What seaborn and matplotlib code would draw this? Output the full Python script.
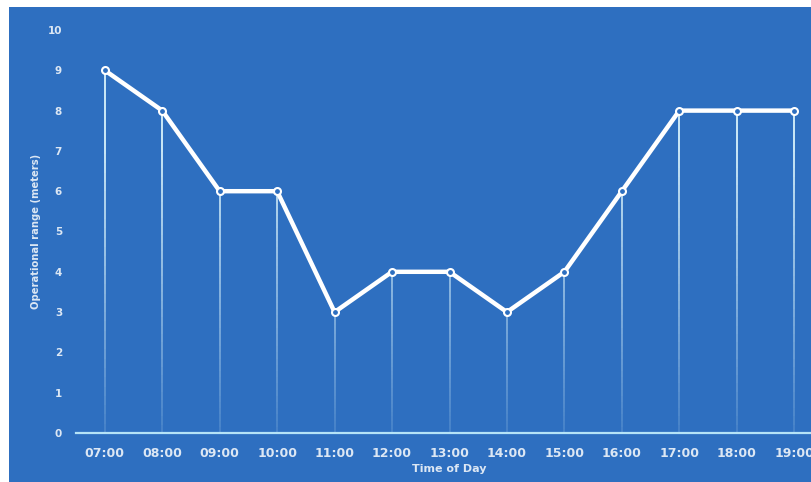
import matplotlib
matplotlib.use("Agg")
import matplotlib.pyplot as plt
import seaborn as sns
import pandas as pd
import numpy as np
from matplotlib.patches import Rectangle
from matplotlib.collections import LineCollection
from matplotlib.colors import to_rgb

# Operational range measured over the day
hours = ["07:00", "08:00", "09:00", "10:00", "11:00", "12:00", "13:00",
         "14:00", "15:00", "16:00", "17:00", "18:00", "19:00"]
range_m = [9, 8, 6, 6, 3, 4, 4, 3, 4, 6, 8, 8, 8]
y_ticks = list(range(0, 11))

BLUE = "#2E6FC0"
TEXT = "#DCE7F4"
AXIS = "#B5E3F7"
DROP = "#D8F2FB"

sns.set_theme(style="white")
plt.rcParams["font.family"] = ["DejaVu Sans"]

fig = plt.figure(figsize=(8.11, 4.82), dpi=100)
fig.patch.set_facecolor("white")
fig.patches.append(Rectangle((9 / 811, 0), 1, 1 - 7 / 482, transform=fig.transFigure,
                             facecolor=BLUE, edgecolor="none", zorder=-10))

ax = fig.add_axes([76 / 811, 49 / 482, 747 / 811, 403 / 482])
ax.set_zorder(5)
ax.set_facecolor(BLUE)

df = pd.DataFrame({"hour": hours, "range": range_m})
pos = list(range(len(hours)))

# drop lines from each reading to the baseline, fading out towards the bottom
segs, cols = [], []
r, g, b = to_rgb(DROP)
for xp, yv in zip(pos, range_m):
    edges = np.linspace(0, yv, 40)
    for y0, y1 in zip(edges[:-1], edges[1:]):
        segs.append([(xp, y0), (xp, y1)])
        frac = (y0 + y1) / 2 / 10
        cols.append((r, g, b, min(1.0, 0.15 + 1.2 * frac)))
ax.add_collection(LineCollection(segs, colors=cols, linewidths=1.3, zorder=2,
                                 capstyle="butt"))

sns.lineplot(data=df, x=pos, y="range", ax=ax, color="white", linewidth=3.2,
             marker="o", markersize=5, markerfacecolor=BLUE,
             markeredgecolor="white", markeredgewidth=1.5, zorder=3)

ax.set_xlim(-0.5, len(hours) - 0.5)
ax.set_ylim(0, 10)
ax.set_xticks(pos)
ax.set_xticklabels(hours)
ax.set_yticks(y_ticks)
ax.tick_params(axis="both", length=0, colors=TEXT)
for lbl in ax.get_xticklabels():
    lbl.set_fontsize(9)
    lbl.set_fontweight("bold")
for lbl in ax.get_yticklabels():
    lbl.set_fontsize(7.5)
    lbl.set_fontweight("bold")
ax.tick_params(axis="x", pad=10)
ax.tick_params(axis="y", pad=10)

for side in ["top", "right", "left"]:
    ax.spines[side].set_visible(False)
ax.spines["bottom"].set_color(AXIS)
ax.spines["bottom"].set_linewidth(1.6)

ax.set_xlabel("Time of Day", color=TEXT, fontsize=8, fontweight="bold", labelpad=3)
ax.set_ylabel("Operational range (meters)", color=TEXT, fontsize=7.2, fontweight="bold")
ax.yaxis.set_label_coords(-35 / 747, 0.5)

fig.savefig("out.png", dpi=100, facecolor=fig.get_facecolor())
